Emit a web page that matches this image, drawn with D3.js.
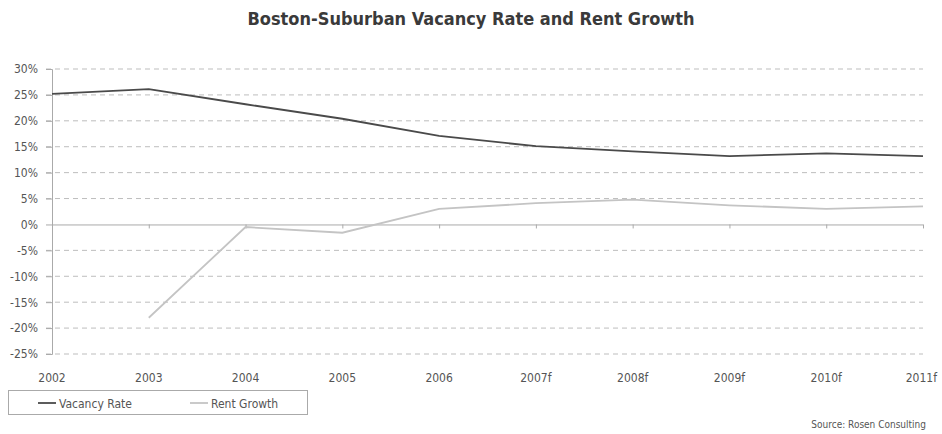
<!DOCTYPE html>
<html lang="en">
<head>
<meta charset="utf-8">
<title>Boston-Suburban Vacancy Rate and Rent Growth</title>
<script src="https://d3js.org/d3.v7.min.js"></script>
<style>
  body { margin: 0; background: #fff; }
  text { font-family: "Liberation Sans Narrow", "DejaVu Sans Condensed", "Roboto", sans-serif; fill: #555; }
  .title { font-weight: bold; fill: #3a3a3a; }
</style>
</head>
<body>
<svg id="chart" width="942" height="434"></svg>
<script>
// ---- data ----
var years = ['2002', '2003', '2004', '2005', '2006', '2007f', '2008f', '2009f', '2010f', '2011f'];
var vacancyRate = [25.2, 26.1, 23.2, 20.4, 17.1, 15.1, 14.1, 13.2, 13.7, 13.2];
var rentGrowth = [null, -18.0, -0.5, -1.6, 3.0, 4.1, 4.8, 3.7, 3.0, 3.5];
var yTicks = [30, 25, 20, 15, 10, 5, 0, -5, -10, -15, -20, -25];

var svg = d3.select('#chart');

var x = d3.scalePoint()
  .domain(years)
  .range([52, 923]);

var y = d3.scaleLinear()
  .domain([-25, 30])
  .range([354, 69]);

// title
svg.append('text')
  .attr('class', 'title')
  .attr('x', 471)
  .attr('y', 25)
  .attr('text-anchor', 'middle')
  .style('font-size', '18px')
  .text('Boston-Suburban Vacancy Rate and Rent Growth');

// dashed gridlines
svg.append('g')
  .selectAll('line')
  .data(yTicks.filter(function(d) { return d !== 0; }))
  .enter()
  .append('line')
  .attr('x1', 46)
  .attr('x2', 923)
  .attr('y1', function(d) { return y(d); })
  .attr('y2', function(d) { return y(d); })
  .attr('stroke', '#bdbdbd')
  .attr('stroke-dasharray', '5,4');

// y axis
var yAxis = svg.append('g')
  .attr('transform', 'translate(52,0)')
  .call(d3.axisLeft(y).tickValues(yTicks).tickSize(6).tickPadding(8)
    .tickFormat(function(d) { return d + '%'; }));
yAxis.select('.domain').attr('stroke', '#aaa');
yAxis.selectAll('.tick line').attr('stroke', '#aaa');
yAxis.selectAll('.tick text').style('font-size', '12px').attr('fill', '#555');

// zero line with ticks
var xAxis = svg.append('g')
  .attr('transform', 'translate(0,' + y(0) + ')')
  .call(d3.axisBottom(x).tickSize(4).tickFormat(''));
xAxis.select('.domain').attr('stroke', '#aaa').attr('d', 'M52,0.5H923');
xAxis.selectAll('.tick line').attr('stroke', '#aaa');

// x labels along the bottom
svg.append('g')
  .selectAll('text')
  .data(years)
  .enter()
  .append('text')
  .attr('x', function(d) { return x(d); })
  .attr('y', 382)
  .attr('text-anchor', function(d, i) { return i === years.length - 1 ? 'end' : 'middle'; })
  .attr('dx', function(d, i) { return i === years.length - 1 ? 14 : 0; })
  .style('font-size', '12px')
  .text(function(d) { return d; });

// lines
var line = d3.line()
  .defined(function(d) { return d.v !== null; })
  .x(function(d) { return x(d.year); })
  .y(function(d) { return y(d.v); });

function toPoints(values) {
  return years.map(function(yr, i) { return { year: yr, v: values[i] }; });
}

svg.append('path')
  .datum(toPoints(rentGrowth))
  .attr('d', line)
  .attr('fill', 'none')
  .attr('stroke', '#c4c4c4')
  .attr('stroke-width', 1.8);

svg.append('path')
  .datum(toPoints(vacancyRate))
  .attr('d', line)
  .attr('fill', 'none')
  .attr('stroke', '#4a4a4a')
  .attr('stroke-width', 1.8);

// legend
var legend = svg.append('g');
legend.append('rect')
  .attr('x', 8.5)
  .attr('y', 390.5)
  .attr('width', 299)
  .attr('height', 24)
  .attr('fill', '#fff')
  .attr('stroke', '#aaa');

var legendItems = [
  { name: 'Vacancy Rate', color: '#4a4a4a', x: 38 },
  { name: 'Rent Growth', color: '#c4c4c4', x: 190 }
];
legend.selectAll('line')
  .data(legendItems)
  .enter()
  .append('line')
  .attr('x1', function(d) { return d.x; })
  .attr('x2', function(d) { return d.x + 18; })
  .attr('y1', 403)
  .attr('y2', 403)
  .attr('stroke', function(d) { return d.color; })
  .attr('stroke-width', 1.8);
legend.selectAll('text')
  .data(legendItems)
  .enter()
  .append('text')
  .attr('x', function(d) { return d.x + 21; })
  .attr('y', 407.5)
  .style('font-size', '12px')
  .text(function(d) { return d.name; });

// source
svg.append('text')
  .attr('x', 926)
  .attr('y', 428)
  .attr('text-anchor', 'end')
  .style('font-size', '10px')
  .text('Source: Rosen Consulting');
</script>
</body>
</html>
